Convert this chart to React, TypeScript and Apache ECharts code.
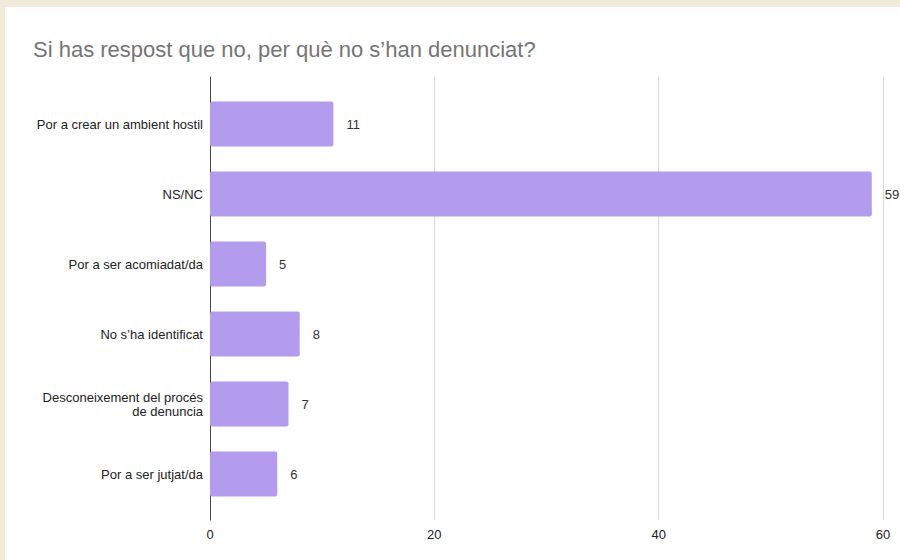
import React, { useEffect, useRef } from "react";
import * as echarts from "echarts";

const categories = [
  "Por a crear un ambient hostil",
  "NS/NC",
  "Por a ser acomiadat/da",
  "No s’ha identificat",
  "Desconeixement del procés\nde denuncia",
  "Por a ser jutjat/da",
];
const values = [11, 59, 5, 8, 7, 6];
const xTicks = { min: 0, max: 60, interval: 20 };
const titleText = "Si has respost que no, per què no s’han denunciat?";

const FONT = "'Liberation Sans', Arial, Helvetica, sans-serif";

export default function App() {
  const ref = useRef<HTMLDivElement>(null);
  useEffect(() => {
    if (!ref.current) return;
    const chart = echarts.init(ref.current, undefined, { renderer: "svg" });
    chart.setOption({
      animation: false,
      backgroundColor: "transparent",
      textStyle: { fontFamily: FONT },
      title: {
        text: titleText,
        left: 28,
        top: 33,
        textStyle: { fontFamily: FONT, fontSize: 22, fontWeight: "normal", color: "#757575" },
      },
      grid: [
        { left: 210, right: 17, top: 77, bottom: 40 },
        { left: 210, right: 17, top: 89, height: 420 },
      ],
      xAxis: [
        {
          type: "value",
          gridIndex: 0,
          min: xTicks.min,
          max: xTicks.max,
          interval: xTicks.interval,
          axisLine: { show: false },
          axisTick: { show: false },
          axisLabel: { color: "#222", fontSize: 13, margin: 8, fontFamily: FONT },
          splitLine: { show: true, lineStyle: { color: "#d9d9d9", width: 1 } },
        },
        {
          type: "value",
          gridIndex: 1,
          min: xTicks.min,
          max: xTicks.max,
          interval: xTicks.interval,
          show: false,
          splitLine: { show: false },
        },
      ],
      yAxis: [
        {
          type: "value",
          gridIndex: 0,
          min: 0,
          max: 1,
          axisLine: { show: true, lineStyle: { color: "#444", width: 1 } },
          axisTick: { show: false },
          axisLabel: { show: false },
          splitLine: { show: false },
        },
        {
          type: "category",
          gridIndex: 1,
          inverse: true,
          data: categories,
          axisLine: { show: false },
          axisTick: { show: false },
          axisLabel: {
            color: "#222",
            fontSize: 13,
            margin: 7,
            lineHeight: 14,
            align: "right",
            fontFamily: FONT,
          },
          splitLine: { show: false },
        },
      ],
      series: [
        {
          type: "bar",
          xAxisIndex: 1,
          yAxisIndex: 1,
          data: values,
          barWidth: 45,
          itemStyle: { color: "#b39cee", borderRadius: 2 },
          label: {
            show: true,
            position: "right",
            distance: 13,
            color: "#333",
            fontSize: 13,
            fontFamily: FONT,
          },
        },
      ],
    });
    return () => chart.dispose();
  }, []);
  return (
    <div style={{ position: "fixed", left: 0, top: 0, width: 900, height: 560, background: "#f3ebda", overflow: "hidden" }}>
      <div style={{ position: "absolute", left: 5, top: 7, right: 0, bottom: 0, background: "#ffffff" }} />
      <div ref={ref} style={{ position: "absolute", left: 0, top: 0, width: 900, height: 560 }} />
    </div>
  );
}
